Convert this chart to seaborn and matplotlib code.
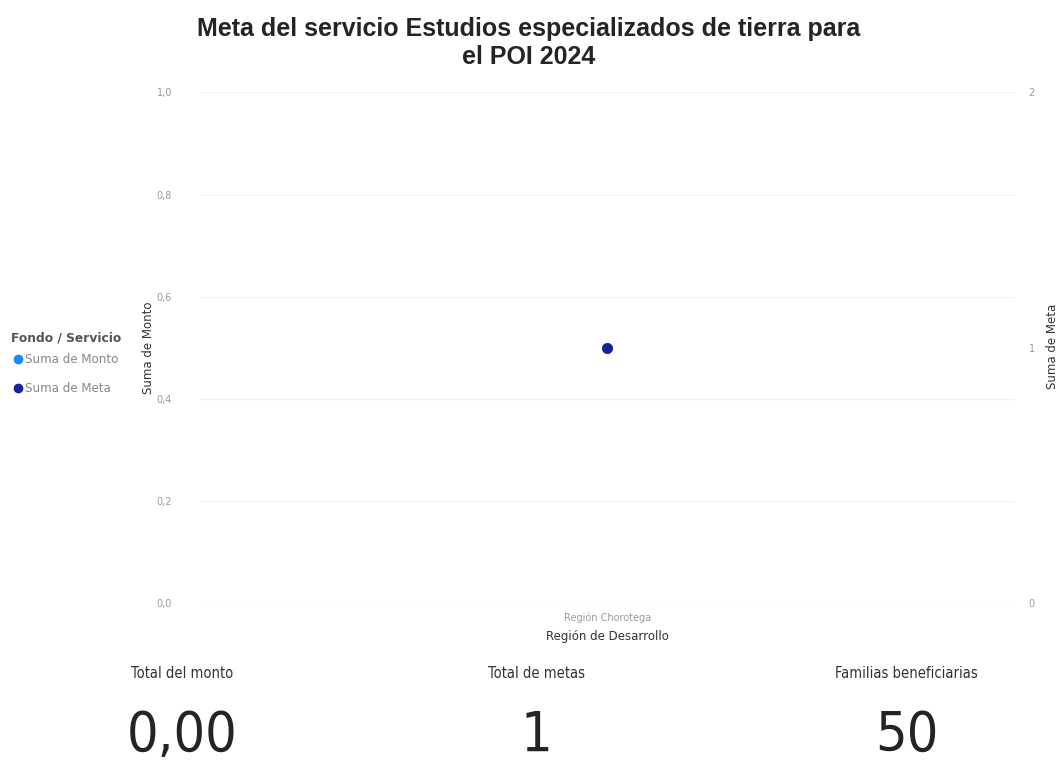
import matplotlib
matplotlib.use("Agg")
import matplotlib.pyplot as plt
import seaborn as sns
import pandas as pd
import numpy as np
from matplotlib.lines import Line2D

# Datos del gráfico
regiones = ["Región Chorotega"]
suma_monto = [np.nan]   # sin valor visible en el gráfico
suma_meta = [1]
kpi_titulos = ["Total del monto", "Total de metas", "Familias beneficiarias"]
kpi_valores = ["0,00", "1", "50"]

color_monto = "#118DFF"
color_meta = "#12239E"

df = pd.DataFrame({"Región": regiones, "Monto": suma_monto, "Meta": suma_meta})

sns.set_theme(style="white")
plt.rcParams["font.family"] = ["DejaVu Sans"]

fig = plt.figure(figsize=(10.58, 7.61), dpi=100)
ax = fig.add_axes([0.189, 0.2076, 0.77, 0.671])
ax2 = ax.twinx()

sns.scatterplot(data=df, x="Región", y="Monto", ax=ax, color=color_monto, s=60, legend=False)
sns.scatterplot(data=df, x="Región", y="Meta", ax=ax2, color=color_meta, s=55,
                edgecolor=color_meta, legend=False)

ax.set_ylim(0, 1)
ax.set_yticks([0, 0.2, 0.4, 0.6, 0.8, 1.0])
ax.set_yticklabels(["0,0", "0,2", "0,4", "0,6", "0,8", "1,0"])
ax2.set_ylim(0, 2)
ax2.set_yticks([0, 1, 2])
ax.set_xlim(-0.5, 0.5)

for a in (ax, ax2):
    for s in a.spines.values():
        s.set_visible(False)
    a.tick_params(axis="both", length=0, labelsize=7, labelcolor="#9a9a9a")
ax.tick_params(axis="y", pad=20)
ax2.tick_params(axis="y", pad=10)
ax.tick_params(axis="x", pad=7)
ax.yaxis.grid(True, color="#f2f2f2", linewidth=0.8)
ax.set_axisbelow(True)

ax.set_xlabel("Región de Desarrollo", fontsize=8.5, color="#333333", labelpad=5)
ax.set_ylabel("Suma de Monto", fontsize=8.5, color="#333333", labelpad=1)
ax2.set_ylabel("")
fig.text(0.9945, 0.545, "Suma de Meta", rotation=90, ha="center", va="center",
         fontsize=8.5, color="#333333")

fig.text(0.5, 0.978, "Meta del servicio Estudios especializados de tierra para\nel POI 2024",
         ha="center", va="top", fontsize=18, fontweight="bold", color="#252423",
         family=["Liberation Sans", "DejaVu Sans"], linespacing=1.2)

# Leyenda a la izquierda
fig.text(0.010, 0.551, "Fondo / Servicio", fontsize=8.8, fontweight="bold", color="#555555")
handles = [Line2D([], [], marker="o", linestyle="", color=color_monto, markersize=6),
           Line2D([], [], marker="o", linestyle="", color=color_meta, markersize=6)]
fig.legend(handles, ["Suma de Monto", "Suma de Meta"], loc="upper left",
           bbox_to_anchor=(0.002, 0.547), frameon=False, fontsize=8.6,
           labelcolor="#888888", handletextpad=0.0, labelspacing=1.35,
           handlelength=1.2, borderpad=0.2)

# Tarjetas KPI
kpi_x = [0.172, 0.507, 0.857]
for x, titulo, valor in zip(kpi_x, kpi_titulos, kpi_valores):
    fig.text(x, 0.115, titulo, ha="center", va="center", fontsize=10.5,
             color="#333333", fontstretch="condensed")
    fig.text(x, 0.033, valor, ha="center", va="center", fontsize=40,
             color="#252423", fontstretch="condensed")

fig.savefig("out.png", dpi=100)
plt.close()
